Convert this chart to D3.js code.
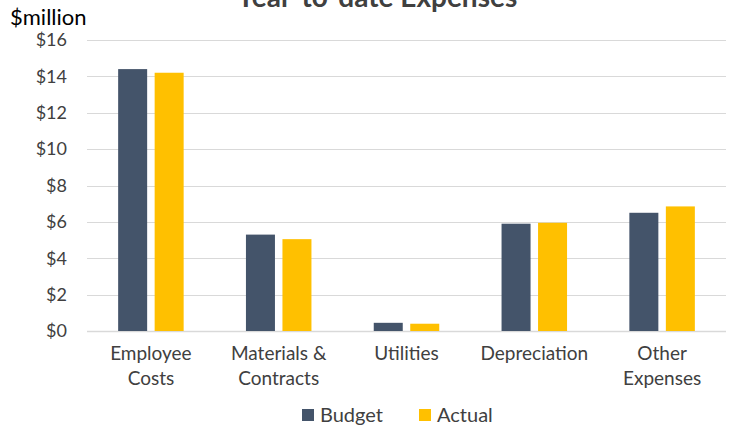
<!DOCTYPE html>
<html>
<head>
<meta charset="utf-8">
<script src="https://cdnjs.cloudflare.com/ajax/libs/d3/7.8.5/d3.min.js"></script>
<style>
  body { margin: 0; background: #fff; }
  svg text { font-family: Lato, "Open Sans", sans-serif; fill: #404040; }
</style>
</head>
<body>
<script>
const w = 731;
const h = 429;

const categories = [['Employee', 'Costs'], ['Materials &', 'Contracts'], ['Utilities'], ['Depreciation'], ['Other', 'Expenses']];
const seriesNames = ['Budget', 'Actual'];
const budget = [14.4, 5.3, 0.45, 5.9, 6.5];
const actual = [14.2, 5.05, 0.4, 5.95, 6.85];
const yTicks = [0, 2, 4, 6, 8, 10, 12, 14, 16];
const colors = ['#44546A', '#FFC000'];

const svg = d3.select('body').append('svg')
	.attr('width', w)
	.attr('height', h);

const x = d3.scaleBand()
	.domain(d3.range(categories.length))
	.range([87, 726]);

const y = d3.scaleLinear()
	.domain([0, 16])
	.range([331, 40]);

// gridlines
svg.append('g')
	.selectAll('line')
	.data(yTicks)
	.enter()
	.append('line')
	.attr('x1', 87)
	.attr('x2', 726)
	.attr('y1', d => Math.round(y(d)) + 0.5)
	.attr('y2', d => Math.round(y(d)) + 0.5)
	.attr('stroke', '#d9d9d9')
	.attr('stroke-width', d => d === 0 ? 1.5 : 1);

// y axis labels
const yAxis = d3.axisLeft(y)
	.tickValues(yTicks)
	.tickSize(0)
	.tickPadding(20)
	.tickFormat(d => '$' + d);
svg.append('g')
	.attr('transform', 'translate(87,0)')
	.call(yAxis)
	.call(g => g.select('.domain').remove())
	.call(g => g.selectAll('text').style('font-size', '18px').attr('fill', '#404040').style('font-family', 'Lato, sans-serif'));

// bars
const barW = 29;
const gap = 7.5;
const series = [budget, actual];
series.forEach((vals, s) => {
	svg.append('g')
		.selectAll('rect')
		.data(vals)
		.enter()
		.append('rect')
		.attr('x', (d, i) => x(i) + x.bandwidth() / 2 - barW - gap / 2 + s * (barW + gap))
		.attr('y', d => y(d))
		.attr('width', barW)
		.attr('height', d => y(0) - y(d))
		.attr('fill', colors[s]);
});

// category labels
const cat = svg.append('g')
	.selectAll('text')
	.data(categories)
	.enter()
	.append('text')
	.attr('text-anchor', 'middle')
	.attr('x', (d, i) => x(i) + x.bandwidth() / 2)
	.attr('y', 360)
	.style('font-size', '19px');
cat.selectAll('tspan')
	.data(d => d)
	.enter()
	.append('tspan')
	.attr('x', function () { return d3.select(this.parentNode).attr('x'); })
	.attr('dy', (d, i) => i === 0 ? 0 : 25)
	.text(d => d);

// title (partly above the top edge, as in the original)
svg.append('text')
	.attr('x', 377)
	.attr('y', 7)
	.attr('text-anchor', 'middle')
	.style('font-size', '28px')
	.style('font-weight', 'bold')
	.text('Year-to-date Expenses');

// unit label
svg.append('text')
	.attr('x', 10)
	.attr('y', 25)
	.style('font-size', '22px')
	.style('fill', '#000')
	.text('$million');

// legend
const legendX = [302, 419];
const legend = svg.append('g')
	.selectAll('g')
	.data(seriesNames)
	.enter()
	.append('g')
	.attr('transform', (d, i) => `translate(${legendX[i]},409)`);
legend.append('rect')
	.attr('width', 12)
	.attr('height', 12)
	.attr('fill', (d, i) => colors[i]);
legend.append('text')
	.attr('x', 18)
	.attr('y', 13)
	.style('font-size', '20px')
	.text(d => d);
</script>
</body>
</html>
